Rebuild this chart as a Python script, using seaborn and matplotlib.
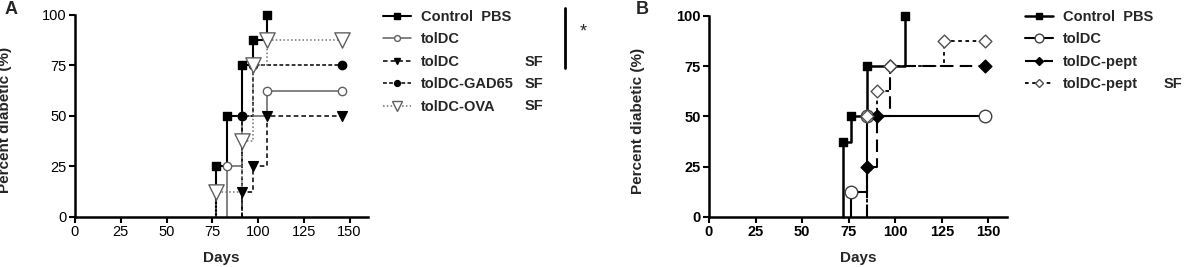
import matplotlib
matplotlib.use("Agg")
import matplotlib.pyplot as plt
import seaborn as sns
from matplotlib.lines import Line2D

sns.set_theme(style="ticks")
plt.rcParams['font.family'] = ['Liberation Sans', 'DejaVu Sans']

# --- dados: painel A (dias do evento, % diabetico, fim do seguimento) ---
a_names = ['Control  PBS', 'tolDC', 'tolDC', 'tolDC-GAD65', 'tolDC-OVA']
a_sf = ['', '', 'SF', 'SF', 'SF']
a_days = [[77, 83, 91, 97, 105],
          [83, 91, 105],
          [91, 97, 105],
          [91, 97],
          [77, 91, 97, 105]]
a_pct = [[25, 50, 75, 87.5, 100],
         [25, 50, 62.5],
         [12.5, 25, 50],
         [50, 75],
         [12.5, 37.5, 75, 87.5]]
a_end = [None, 146, 146, 146, 146]

# --- dados: painel B ---
b_names = ['Control  PBS', 'tolDC', 'tolDC-pept', 'tolDC-pept']
b_sf = ['', '', '', 'SF']
b_days = [[72, 76, 85, 105],
          [76, 85],
          [85, 90, 97],
          [85, 90, 97, 126]]
b_pct = [[37.5, 50, 75, 100],
         [12.5, 50],
         [25, 50, 75],
         [50, 62.5, 75, 87.5]]
b_end = [None, 148, 148, 148]

# estilos (cor linha, lw, tracejado, marcador, tamanho, face, borda)
a_style = [
    dict(color='black', lw=1.5, ls='-', m='s', ms=6, fc='black', ec='black'),
    dict(color='#606060', lw=1.1, ls='-', m='o', ms=6, fc='white', ec='#606060'),
    dict(color='black', lw=1.1, ls=(0, (3, 2)), m='v', ms=7, fc='black', ec='black'),
    dict(color='black', lw=1.1, ls=(0, (2.5, 1.5)), m='o', ms=6, fc='black', ec='black'),
    dict(color='#707070', lw=1.1, ls=(0, (1, 1.5)), m='v', ms=11, fc='white', ec='#606060'),
]
b_style = [
    dict(color='black', lw=1.8, ls='-', m='s', ms=6, fc='black', ec='black'),
    dict(color='black', lw=1.5, ls='-', m='o', ms=9, fc='white', ec='#404040'),
    dict(color='black', lw=1.5, ls=(0, (6, 3)), m='D', ms=6.5, fc='black', ec='black'),
    dict(color='black', lw=1.3, ls=(0, (2, 2)), m='D', ms=6.5, fc='white', ec='#505050'),
]

fig = plt.figure(figsize=(11.88, 2.67), dpi=100)
axA = fig.add_axes([0.0631, 0.1873, 0.2466, 0.7566])
axB = fig.add_axes([0.5968, 0.1873, 0.2508, 0.7528])


def draw_panel(ax, days, pct, ends, styles, tick_weight):
    for d, p, e, st in zip(days, pct, ends, styles):
        xs = [d[0]] + d
        ys = [0] + p
        mx, my = list(d), list(p)
        if e is not None:
            xs = xs + [e]
            ys = ys + [p[-1]]
            mx.append(e)
            my.append(p[-1])
        sns.lineplot(x=xs, y=ys, ax=ax, estimator=None, sort=False,
                     drawstyle='steps-post', color=st['color'], lw=st['lw'],
                     linestyle=st['ls'], clip_on=False, zorder=2)
        sns.scatterplot(x=mx, y=my, ax=ax, marker=st['m'], s=st['ms'] ** 2,
                        facecolor=st['fc'], edgecolor=st['ec'], linewidth=1,
                        clip_on=False, zorder=3)
    ax.set_xlim(0, 160)
    ax.set_ylim(0, 100)
    ax.set_xticks(range(0, 151, 25))
    ax.set_yticks(range(0, 101, 25))
    sns.despine(ax=ax)
    for s in ['left', 'bottom']:
        ax.spines[s].set_linewidth(1.8)
        ax.spines[s].set_color('black')
    ax.tick_params(direction='out', length=4, width=1.5, labelsize=10.5,
                   colors='black', pad=2)
    for lab in ax.get_xticklabels() + ax.get_yticklabels():
        lab.set_fontweight(tick_weight)
    ax.set_xlabel('Days', fontsize=11, weight='bold')
    ax.set_ylabel('Percent diabetic (%)', fontsize=11, weight='bold')
    ax.yaxis.set_label_coords(-0.215, 0.48)
    ax.xaxis.set_label_coords(0.5, -0.17)


draw_panel(axA, a_days, a_pct, a_end, a_style, 'normal')
draw_panel(axB, b_days, b_pct, b_end, b_style, 'bold')


def make_legend(names, styles, x, y):
    handles = [Line2D([], [], color=st['color'], lw=st['lw'], linestyle=st['ls'],
                      marker=st['m'], markersize=st['ms'] * 0.7,
                      markerfacecolor=st['fc'], markeredgecolor=st['ec'])
               for st in styles]
    fig.legend(handles, names, loc='upper left', bbox_to_anchor=(x, y),
               frameon=False, borderpad=0, borderaxespad=0, handlelength=1.9,
               handletextpad=0.7, labelspacing=0.58,
               prop=dict(size=10.5, weight='bold'))


make_legend(a_names, a_style, 383 / 1188, 1 - 10 / 267)
make_legend(b_names, b_style, 1025 / 1188, 1 - 10 / 267)

# coluna "SF"
a_rows = [17, 40, 62, 84, 106]
for lab, yy in zip(a_sf, a_rows):
    if lab:
        fig.text(525 / 1188, 1 - yy / 267, lab, fontsize=10.5, weight='bold',
                 va='center', ha='left')
b_rows = [17, 40, 62, 84]
for lab, yy in zip(b_sf, b_rows):
    if lab:
        fig.text(1164 / 1188, 1 - yy / 267, lab, fontsize=10.5, weight='bold',
                 va='center', ha='left')

# barra de significancia
fig.add_artist(Line2D([565 / 1188, 565 / 1188], [1 - 8 / 267, 1 - 68 / 267],
                      color='black', lw=2))
fig.text(583 / 1188, 1 - 32 / 267, '*', fontsize=13, ha='center', va='center')

fig.text(5 / 1188, 1 - 10 / 267, 'A', fontsize=13, weight='bold', va='center')
fig.text(636 / 1188, 1 - 10 / 267, 'B', fontsize=13, weight='bold', va='center')

fig.savefig('out.png', dpi=100)
